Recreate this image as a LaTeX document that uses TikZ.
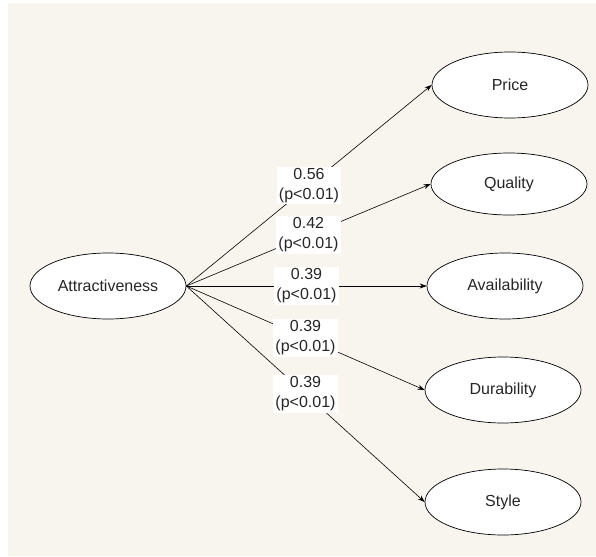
\documentclass[tikz,border=0pt]{standalone}
\usepackage{fontspec}
\setmainfont{Liberation Sans}
\usetikzlibrary{shapes.geometric}
\usetikzlibrary{arrows.meta}
\definecolor{paper}{RGB}{248,245,239}

\begin{document}
\begin{tikzpicture}[x=1pt,y=-1pt,
        var/.style={ellipse,draw,fill=white,line width=0.7pt,minimum width=156pt,minimum height=66pt,inner sep=0pt,text=black!85,font=\fontsize{16}{20}\selectfont},
        link/.style={-{Stealth[length=7pt,width=5pt]},line width=0.6pt},
        coef/.style={fill=white,inner xsep=2pt,inner ysep=1.5pt,align=center,text=black!85,font=\fontsize{16}{20}\selectfont}]
            \useasboundingbox (0,0) rectangle (596,556);
            \fill[white] (0,0) rectangle (596,556);
            \fill[paper] (8,3) rectangle (596,556);
            \node[var] (att) at (108,286) {Attractiveness};
            \node[var] (price) at (510,85) {Price};
            \node[var,minimum height=62pt] (qual) at (509,184) {Quality};
            \node[var] (avail) at (505,286) {Availability};
            \node[var] (dur) at (503,390) {Durability};
            \node[var] (style) at (503,502) {Style};
            \draw[link](att.east)--(price.west)node[coef,midway]{0.56\\(p<0.01)};
            \draw[link](att.east)--(qual.west)node[coef,midway]{0.42\\(p<0.01)};
            \draw[link](att.east)--(avail.west)node[coef,midway]{0.39\\(p<0.01)};
            \draw[link](att.east)--(dur.west)node[coef,midway]{0.39\\(p<0.01)};
            \draw[link](att.east)--(style.west)node[coef,midway]{0.39\\(p<0.01)};
        \end{tikzpicture}
\end{document}
